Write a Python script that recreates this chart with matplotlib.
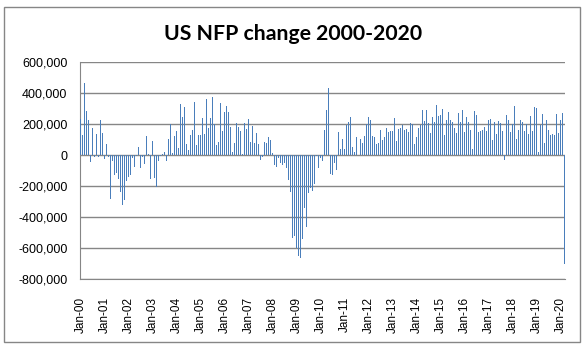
# подключаем библиотеки
import matplotlib
matplotlib.use("Agg")
import matplotlib.pyplot as plt
from matplotlib.patches import Rectangle

# изменение NFP по месяцам, тыс. (янв 2000 - мар 2020)
nfp_2000 = [234, 131, 467, 286, 228, -47, 176, -11, 138, -15, 228, 144]
nfp_2001 = [-28, 73, -13, -282, -37, -131, -116, -157, -241, -325, -292, -170]
nfp_2002 = [-140, -131, -22, -80, -9, 54, -86, -15, -60, 125, 9, -157]
nfp_2003 = [92, -150, -206, -41, -9, 9, 19, -41, 105, 198, 15, 125]
nfp_2004 = [157, 47, 331, 247, 312, 73, 34, 131, 163, 344, 67, 131]
nfp_2005 = [131, 241, 138, 363, 176, 241, 376, 198, 67, 86, 338, 157]
nfp_2006 = [280, 318, 280, 183, 19, 79, 208, 183, 157, 5, 206, 170]
nfp_2007 = [234, 86, 189, 79, 144, 73, -34, -15, 86, 79, 118, 99]
nfp_2008 = [15, -63, -80, -20, -49, -62, -51, -84, -159, -240, -533, -524]
nfp_2009 = [-598, -651, -663, -539, -345, -467, -247, -216, -234, -190, -9, -85]
nfp_2010 = [-20, -36, 162, 290, 431, -125, -131, -54, -95, 151, 39, 103]
nfp_2011 = [36, 192, 216, 244, 54, 18, 117, 0, 103, 80, 120, 200]
nfp_2012 = [243, 227, 120, 115, 69, 80, 163, 96, 114, 171, 146, 155]
nfp_2013 = [157, 236, 88, 165, 175, 195, 162, 169, 148, 204, 203, 74]
nfp_2014 = [113, 175, 192, 288, 217, 288, 209, 142, 248, 214, 321, 252]
nfp_2015 = [257, 295, 126, 223, 280, 223, 215, 173, 142, 271, 211, 292]
nfp_2016 = [151, 242, 215, 160, 38, 287, 255, 151, 156, 161, 178, 156]
nfp_2017 = [227, 235, 98, 211, 138, 222, 209, 156, -33, 261, 228, 148]
nfp_2018 = [200, 313, 103, 164, 223, 213, 157, 201, 134, 250, 155, 312]
nfp_2019 = [304, 20, 196, 263, 75, 224, 164, 130, 136, 128, 266, 145]
nfp_2020 = [225, 273, -701]

years = list(range(2000, 2021))
tick_labels = ["Jan-%02d" % (y % 100) for y in years]
y_ticks = [600000, 400000, 200000, 0, -200000, -400000, -600000, -800000]

values = (nfp_2000 + nfp_2001 + nfp_2002 + nfp_2003 + nfp_2004 + nfp_2005
          + nfp_2006 + nfp_2007 + nfp_2008 + nfp_2009 + nfp_2010 + nfp_2011
          + nfp_2012 + nfp_2013 + nfp_2014 + nfp_2015 + nfp_2016 + nfp_2017
          + nfp_2018 + nfp_2019 + nfp_2020)
values = [v * 1000 for v in values]
months = list(range(len(values)))

plt.rcParams["font.family"] = ["Liberation Sans", "DejaVu Sans"]

W, H = 587, 350
fig = plt.figure(figsize=(W / 100, H / 100), dpi=100)
ax = fig.add_axes([80 / W, (H - 279) / H, (565 - 80) / W, (279 - 62) / H])

grid_color = "#868686"

# рамка вокруг диаграммы
fig.patches.append(Rectangle((4 / W, (H - 342) / H), 576 / W, 335 / H,
                             transform=fig.transFigure, fill=False,
                             edgecolor=grid_color, linewidth=1))

ax.bar(months, values, width=0.5, color="#4A7EBB", zorder=3)

ax.set_ylim(-800000, 600000)
ax.set_xlim(-0.3, len(values) - 0.7)
ax.set_yticks(y_ticks)
ax.set_yticklabels(["{:,}".format(v) for v in y_ticks], fontsize=9)
ax.set_xticks([12 * k for k in range(len(years))])
ax.set_xticklabels(tick_labels, rotation=90, fontsize=8.5)
ax.tick_params(axis="x", length=0, pad=13)
ax.tick_params(axis="y", length=0, pad=9)

ax.grid(axis="y", color=grid_color, linewidth=1, zorder=0)
for side in ["top", "right"]:
    ax.spines[side].set_visible(False)
ax.spines["left"].set_color(grid_color)
ax.spines["bottom"].set_color(grid_color)

fig.text(293 / W, (H - 34) / H, "US NFP change 2000-2020", ha="center",
         va="center", fontsize=15.3, fontweight="bold", family="Lato")

plt.savefig("out.png", dpi=100)
